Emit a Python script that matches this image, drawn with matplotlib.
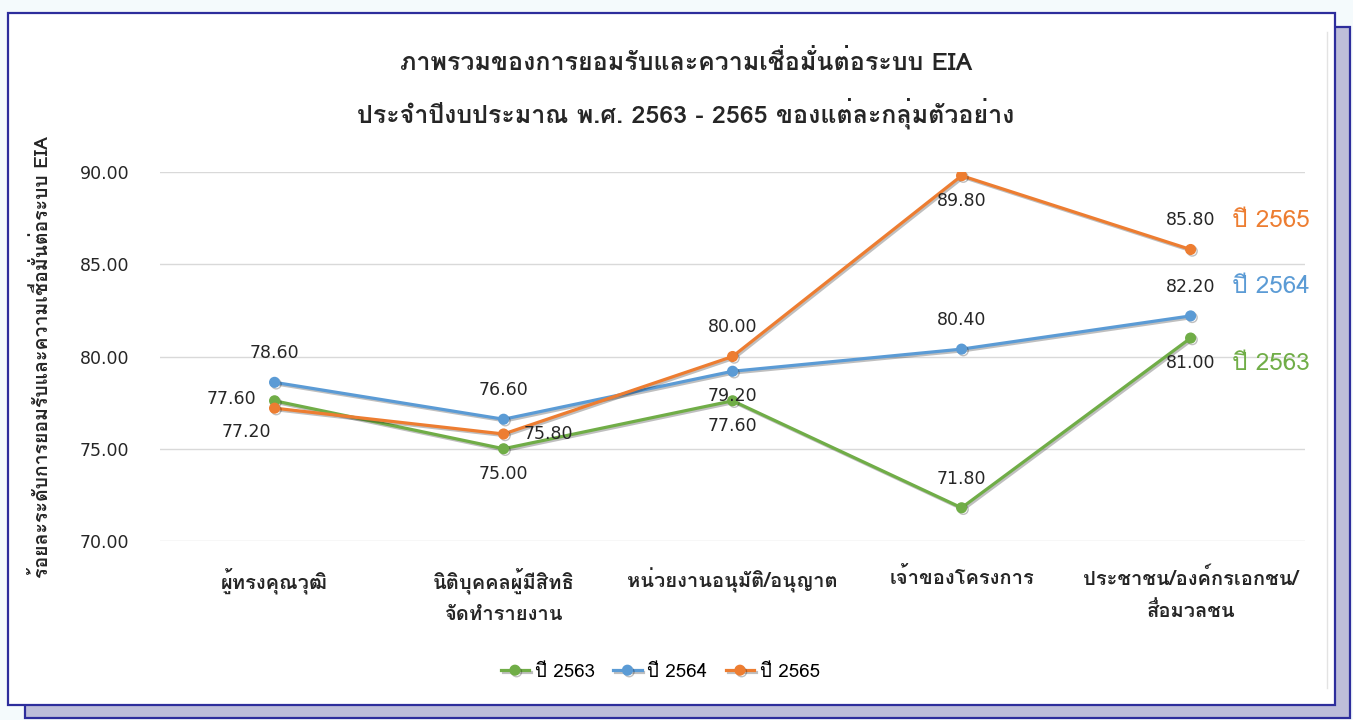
import matplotlib
matplotlib.use("Agg")
import matplotlib.pyplot as plt
import matplotlib.patheffects as pe
from matplotlib.patches import Rectangle
from matplotlib.lines import Line2D

THAI = ['Loma', 'DejaVu Sans']
NUM = ['DejaVu Sans']

categories = ['ผู้ทรงคุณวุฒิ', 'นิติบุคคลผู้มีสิทธิ\nจัดทำรายงาน', 'หน่วยงานอนุมัติ/อนุญาต',
              'เจ้าของโครงการ', 'ประชาชน/องค์กรเอกชน/\nสื่อมวลชน']
series_names = ['ปี 2563', 'ปี 2564', 'ปี 2565']
y2563 = [77.6, 75.0, 77.6, 71.8, 81.0]
y2564 = [78.6, 76.6, 79.2, 80.4, 82.2]
y2565 = [77.2, 75.8, 80.0, 89.8, 85.8]
yticks = [70, 75, 80, 85, 90]

colors = ['#70ad47', '#5b9bd5', '#ed7d31']
# where each data label sits relative to its point
label_pos = [
    ['left', 'below', 'below', 'above', 'below'],
    ['above', 'above', 'below', 'above', 'above'],
    ['belowleft', 'right', 'above', 'below', 'above'],
]
offsets = {'above': (0, 21), 'below': (0, -18), 'left': (-31, 1),
           'right': (32, 0), 'belowleft': (-20, -17)}

fig = plt.figure(figsize=(13.53, 7.2), dpi=100)
fig.patch.set_facecolor('#f4fafc')

# framed card with a drop shadow
fig.add_artist(Rectangle((0.0185, 0.003), 0.979, 0.960, transform=fig.transFigure,
                         facecolor='#bdbdd9', edgecolor='#2d2d9c', lw=1.6, zorder=-3))
fig.add_artist(Rectangle((0.006, 0.021), 0.981, 0.961, transform=fig.transFigure,
                         facecolor='white', edgecolor='#2d2d9c', lw=1.6, zorder=-2))
fig.add_artist(Line2D([0.9808, 0.9808], [0.045, 0.955], transform=fig.transFigure,
                      color='#e3e3e3', lw=1, zorder=-1))

ax = fig.add_axes([0.1183, 0.2486, 0.8463, 0.5125])
ax.set_facecolor('none')
x = list(range(len(categories)))

for vals, name, c, pos in zip([y2563, y2564, y2565], series_names, colors, label_pos):
    ax.plot(x, vals, color=c, lw=2.3, marker='o', ms=7, label=name, zorder=3,
            path_effects=[pe.SimpleLineShadow(offset=(1.2, -1.2), alpha=0.25), pe.Normal()])
    for xi, v, p in zip(x, vals, pos):
        dx, dy = offsets[p]
        ax.annotate(f'{v:.2f}', (xi, v), xytext=(dx, dy), textcoords='offset points',
                    ha='center', va='center', fontsize=12.5, color='#262626', family=NUM)
    # series name next to the last value label
    dx, dy = offsets[pos[-1]]
    ax.annotate(name, (x[-1], vals[-1]), xytext=(dx + 30, dy), textcoords='offset points',
                ha='left', va='center', fontsize=17.5, color=c, family=THAI)

ax.set_xlim(-0.5, len(categories) - 0.5)
ax.set_ylim(70, 90)
ax.set_yticks(yticks)
ax.set_yticklabels([f'{t:.2f}' for t in yticks], family=NUM, fontsize=12.5, color='#262626')
ax.set_xticks(x)
ax.set_xticklabels(categories, family=THAI, fontsize=14.5, color='#262626', linespacing=1.75,
                   fontweight='bold')
ax.tick_params(axis='both', length=0)
ax.tick_params(axis='y', pad=22)
ax.tick_params(axis='x', pad=19)
ax.grid(axis='y', color='#d9d9d9', lw=1)
ax.set_axisbelow(True)
for s in ax.spines.values():
    s.set_visible(False)

ax.set_ylabel('ร้อยละระดับการยอมรับและความเชื่อมั่นต่อระบบ EIA', family=THAI,
              fontsize=14, fontweight='bold', color='#262626', labelpad=20)

fig.text(0.507, 0.913, 'ภาพรวมของการยอมรับและความเชื่อมั่นต่อระบบ EIA', ha='center', va='center',
         family=THAI, fontsize=18, fontweight='bold', color='#262626')
fig.text(0.507, 0.843, 'ประจำปีงบประมาณ พ.ศ. 2563 - 2565 ของแต่ละกลุ่มตัวอย่าง', ha='center',
         va='center', family=THAI, fontsize=18, fontweight='bold', color='#262626')

leg = fig.legend(loc='center', bbox_to_anchor=(0.488, 0.067), ncol=3, frameon=False,
                 prop={'family': THAI, 'size': 13.5}, handlelength=1.5, columnspacing=1.0,
                 handletextpad=0.3)

fig.savefig('out.png', dpi=100, facecolor=fig.get_facecolor())
